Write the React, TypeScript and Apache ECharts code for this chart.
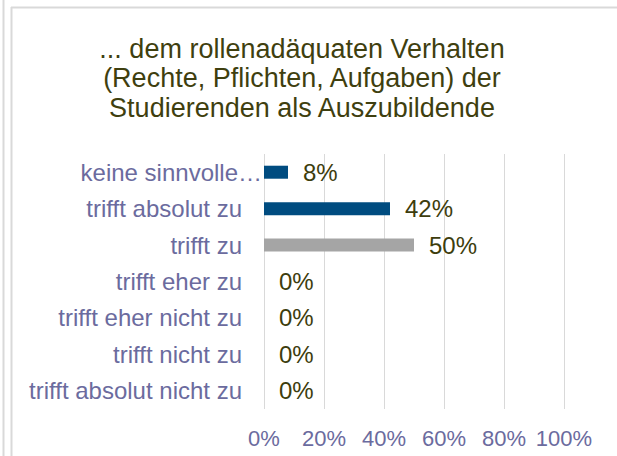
import React, { useEffect, useRef } from "react";
import * as echarts from "echarts";

const titleText = "... dem rollenadäquaten Verhalten\n(Rechte, Pflichten, Aufgaben) der\nStudierenden als Auszubildende";
const categories = [
  "keine sinnvolle…",
  "trifft absolut zu",
  "trifft zu",
  "trifft eher zu",
  "trifft eher nicht zu",
  "trifft nicht zu",
  "trifft absolut nicht zu",
];
const values = [8, 42, 50, 0, 0, 0, 0];
const barColors = ["#004c80", "#004c80", "#a5a5a5", "#004c80", "#004c80", "#004c80", "#004c80"];
const xTicks = [0, 20, 40, 60, 80, 100];

const FONT = "'Liberation Sans', Arial, sans-serif";
const LABEL_COLOR = "#6b6b9e";
const VALUE_COLOR = "#3d3d0d";
const BORDER = "#d9d9d9";

export default function App() {
  const ref = useRef<HTMLDivElement>(null);
  useEffect(() => {
    if (!ref.current) return;
    const chart = echarts.init(ref.current, undefined, { renderer: "svg" });
    chart.setOption({
      animation: false,
      backgroundColor: "#ffffff",
      title: {
        text: titleText,
        left: 297,
        top: 29,
        textAlign: "center",
        textStyle: {
          fontFamily: FONT,
          fontSize: 27,
          fontWeight: "normal",
          color: "#3f3f0f",
          lineHeight: 29.5,
        },
      },
      graphic: [
        { type: "line", shape: { x1: 3.5, y1: 0, x2: 3.5, y2: 456 }, style: { stroke: BORDER, lineWidth: 2 } },
        { type: "line", shape: { x1: 11.5, y1: 7, x2: 11.5, y2: 456 }, style: { stroke: BORDER, lineWidth: 2 } },
        { type: "line", shape: { x1: 11, y1: 7.5, x2: 617, y2: 7.5 }, style: { stroke: BORDER, lineWidth: 2 } },
      ],
      grid: { left: 264, right: 53, top: 154, bottom: 47, containLabel: false },
      xAxis: {
        type: "value",
        min: xTicks[0],
        max: xTicks[xTicks.length - 1],
        interval: 20,
        axisLine: { show: false },
        axisTick: { show: false },
        splitLine: { show: true, lineStyle: { color: BORDER, width: 1 } },
        axisLabel: {
          formatter: (v: number) => v + "%",
          fontFamily: FONT,
          fontSize: 22,
          color: LABEL_COLOR,
          margin: 18,
        },
      },
      yAxis: {
        type: "category",
        data: categories,
        inverse: true,
        axisLine: { show: false },
        axisTick: { show: false },
        splitLine: { show: false },
        axisLabel: {
          margin: 2,
          fontFamily: FONT,
          fontSize: 24,
          color: LABEL_COLOR,
          formatter: (v: string, i: number) => (i === 0 ? "{k|" + v + "}" : "{a|" + v + "}"),
          rich: {
            k: { fontFamily: FONT, fontSize: 24, color: LABEL_COLOR, padding: [0, 0, 0, 0] },
            a: { fontFamily: FONT, fontSize: 24, color: LABEL_COLOR, padding: [0, 20, 0, 0] },
          },
        },
      },
      series: [
        {
          type: "bar",
          data: values.map((v, i) => ({ value: v, itemStyle: { color: barColors[i] } })),
          barWidth: 13,
          label: {
            show: true,
            position: "right",
            distance: 15,
            formatter: "{c}%",
            fontFamily: FONT,
            fontSize: 24,
            color: VALUE_COLOR,
          },
        },
      ],
    });
    return () => chart.dispose();
  }, []);
  return <div ref={ref} style={{ width: 617, height: 456, position: "absolute", left: 0, top: 0 }} />;
}
